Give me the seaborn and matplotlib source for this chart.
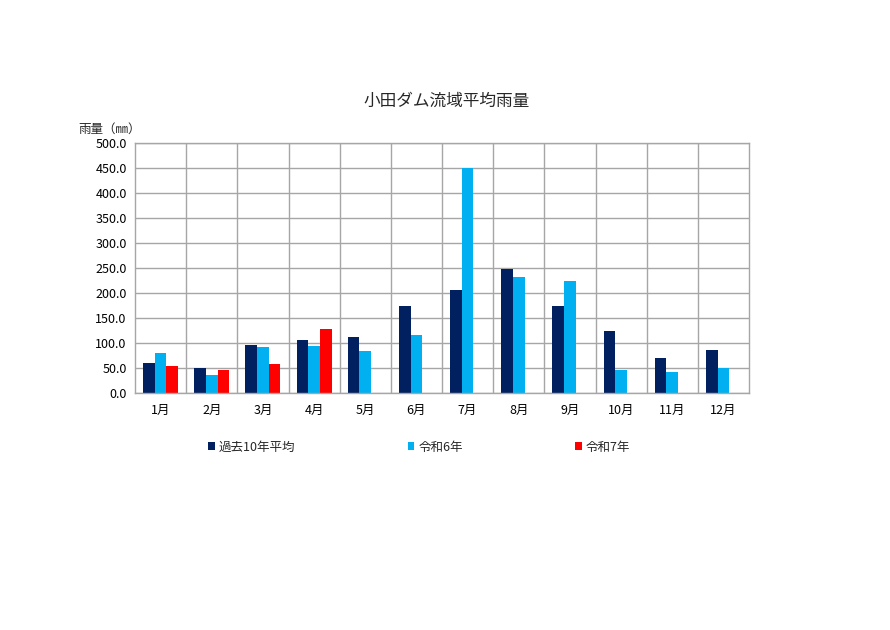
import numpy as np
import pandas as pd
import matplotlib
matplotlib.use("Agg")
import matplotlib.pyplot as plt
import seaborn as sns

months = ["1月", "2月", "3月", "4月", "5月", "6月", "7月", "8月", "9月", "10月", "11月", "12月"]
series_names = ["過去10年平均", "令和6年", "令和7年"]
avg10 = [61, 49.5, 95.6, 105.6, 111.6, 173.8, 206.6, 248, 175, 123.7, 70.9, 86.9]
r6 = [79.5, 35.4, 92.2, 93.6, 83.6, 116.3, 450.5, 232, 224.6, 45.5, 42.1, 50.8]
r7 = [54.8, 46.8, 58.2, 127.7, np.nan, np.nan, np.nan, np.nan, np.nan, np.nan, np.nan, np.nan]
colors = ["#002060", "#00B0F0", "#FF0000"]
yticks = [0, 50, 100, 150, 200, 250, 300, 350, 400, 450, 500]

sns.set_theme(style="white")
plt.rcParams['font.family'] = ['Noto Sans CJK JP', 'DejaVu Sans']

df = pd.DataFrame({
    "month": months * 3,
    "series": [series_names[0]] * 12 + [series_names[1]] * 12 + [series_names[2]] * 12,
    "value": avg10 + r6 + r7,
})

fig = plt.figure(figsize=(8.9, 6.3), dpi=100)
ax = fig.add_axes([135 / 890, 1 - 393 / 630, (749 - 135) / 890, (393 - 143) / 630])

sns.barplot(data=df, x="month", y="value", hue="series", order=months,
            hue_order=series_names, palette=colors, width=0.684, gap=0,
            saturation=1, errorbar=None, ax=ax, legend=True, linewidth=0)

ax.set_ylim(0, 500)
ax.set_xlim(-0.5, 11.5)
ax.set_yticks(yticks)
ax.set_yticklabels([f"{v:.1f}" for v in yticks])
ax.set_xticks(np.arange(0.5, 11.5, 1), minor=True)
ax.grid(False)
ax.yaxis.grid(True, which="major", color="#a6a6a6", linewidth=1.0)
ax.xaxis.grid(True, which="minor", color="#a6a6a6", linewidth=1.0)
ax.set_axisbelow(True)
for s in ax.spines.values():
    s.set_color("#a6a6a6")
    s.set_linewidth(1.0)
ax.tick_params(axis="both", which="both", length=0, labelsize=9, colors="#000000")
ax.tick_params(axis="x", pad=8)
ax.tick_params(axis="y", pad=6)
ax.set_xlabel("")
ax.set_ylabel("")

fig.text(447 / 890, 1 - 101 / 630, "小田ダム流域平均雨量", ha="center", va="center", fontsize=12)
fig.text(78 / 890, 1 - 129 / 630, "雨量（㎜）", ha="left", va="center", fontsize=9)

handles, labels = ax.get_legend_handles_labels()
ax.legend(handles, labels, loc="center", bbox_to_anchor=(419 / 890, 1 - 447 / 630),
          bbox_transform=fig.transFigure, ncol=3, frameon=False, fontsize=9,
          handlelength=0.55, handleheight=0.55, handletextpad=0.3, columnspacing=9.0)

fig.savefig("out.png", dpi=100, facecolor="white")
